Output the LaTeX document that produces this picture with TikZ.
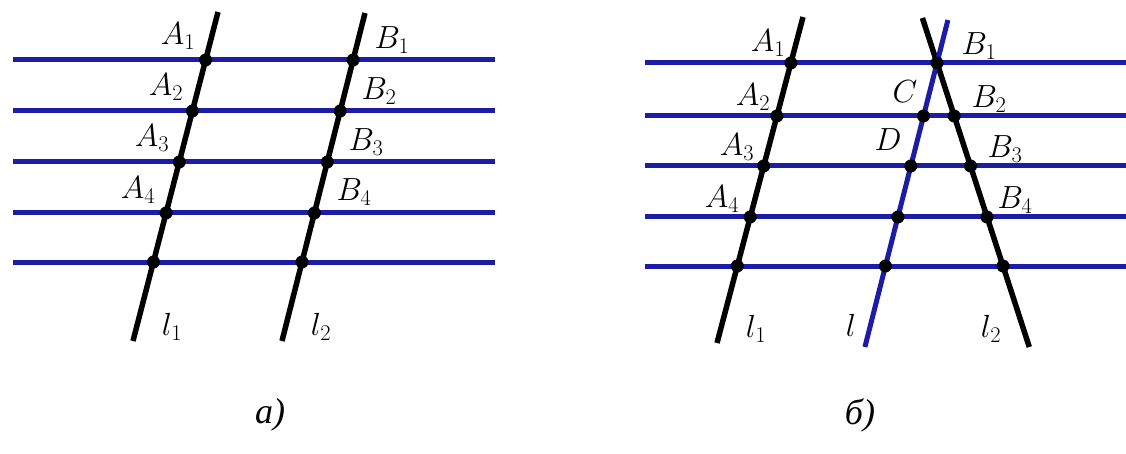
\RequirePackage{fix-cm}
\documentclass[tikz,border=0pt]{standalone}
\usepackage{fontspec}
\newfontfamily\cyrserif{Liberation Serif}
\definecolor{lineblue}{RGB}{28,28,165}
\tikzset{
  hline/.style={draw=lineblue,line width=5pt},
  bline/.style={draw=black,line width=5.5pt},
  lline/.style={draw=lineblue,line width=5pt},
  dotpt/.style={circle,fill=black,inner sep=0pt,minimum size=13pt},
  lab/.style={font=\fontsize{32}{34}\selectfont,inner sep=0pt},
  paneltitle/.style={font=\fontsize{36}{38}\selectfont\cyrserif\itshape,inner sep=0pt}
}
\begin{document}
\begin{tikzpicture}[x=1pt,y=-1pt]
\useasboundingbox (0,0) rectangle (1126,454);
% ---------- panel a ----------
\foreach \i/\y in {1/60,2/111,3/162,4/213,5/262}{
  \coordinate (aL\i) at (13,\y);
  \coordinate (aR\i) at (495,\y);
  \draw[hline] (aL\i) -- (aR\i);
}
\coordinate (al1t) at (218,12);
\coordinate (al1b) at (133,341);
\coordinate (al2t) at (365,13);
\coordinate (al2b) at (282,341);
\draw[bline] (al1t) -- (al1b);
\draw[bline] (al2t) -- (al2b);
\foreach \i/\x/\y in {1/205.6/60,2/192.4/111,3/179.3/162,4/166.1/213,5/153.5/262}{
  \node[dotpt] (aA\i) at (\x,\y) {};
}
\foreach \i/\x/\y in {1/353.1/60,2/340.2/111,3/327.3/162,4/314.4/213,5/302/262}{
  \node[dotpt] (aB\i) at (\x,\y) {};
}
\node[lab] (ta1) at (178,36) {$A_1$};
\node[lab] (ta2) at (166,87) {$A_2$};
\node[lab] (ta3) at (152,138) {$A_3$};
\node[lab] (ta4) at (138,190) {$A_4$};
\node[lab] (tb1) at (392,40) {$B_1$};
\node[lab] (tb2) at (379,91) {$B_2$};
\node[lab] (tb3) at (366,142) {$B_3$};
\node[lab] (tb4) at (354,192) {$B_4$};
\node[lab] (tl1) at (172,327) {$l_1$};
\node[lab] (tl2) at (321,327) {$l_2$};
\node[paneltitle] (capa) at (270,415) {а)};
% ---------- panel b ----------
\foreach \i/\y in {1/63,2/116,3/166,4/217,5/266}{
  \coordinate (bL\i) at (645,\y);
  \coordinate (bR\i) at (1126,\y);
  \draw[hline] (bL\i) -- (bR\i);
}
\coordinate (bl1t) at (803,17);
\coordinate (bl1b) at (717,343);
\coordinate (bl2t) at (922.4,18);
\coordinate (bl2b) at (1029.3,347);
\coordinate (blt) at (947.9,20);
\coordinate (blb) at (864.9,347);
\draw[bline] (bl1t) -- (bl1b);
\draw[bline] (bl2t) -- (bl2b);
\draw[lline] (blt) -- (blb);
\foreach \i/\x/\y in {1/790.9/63,2/776.9/116,3/763.7/166,4/750.2/217,5/737.3/266}{
  \node[dotpt] (bA\i) at (\x,\y) {};
}
\foreach \i/\x/\y in {1/937/63,2/954.2/116,3/970.5/166,4/987/217,5/1003/266}{
  \node[dotpt] (bB\i) at (\x,\y) {};
}
\foreach \i/\x/\y in {2/923.5/116,3/910.8/166,4/897.9/217,5/885.4/266}{
  \node[dotpt] (bC\i) at (\x,\y) {};
}
\node[lab] (ua1) at (768,43) {$A_1$};
\node[lab] (ua2) at (753,97) {$A_2$};
\node[lab] (ua3) at (737,147) {$A_3$};
\node[lab] (ua4) at (722,199) {$A_4$};
\node[lab] (ub1) at (979,46) {$B_1$};
\node[lab] (ub2) at (989,99) {$B_2$};
\node[lab] (ub3) at (1005,149) {$B_3$};
\node[lab] (ub4) at (1015,200) {$B_4$};
\node[lab] (uc) at (905,92) {$C$};
\node[lab] (ud) at (888,140) {$D$};
\node[lab] (ul1) at (756,329) {$l_1$};
\node[lab] (ul) at (851,325) {$l$};
\node[lab] (ul2) at (991,329) {$l_2$};
\node[paneltitle] (capb) at (860,415) {б)};
\end{tikzpicture}
\end{document}
